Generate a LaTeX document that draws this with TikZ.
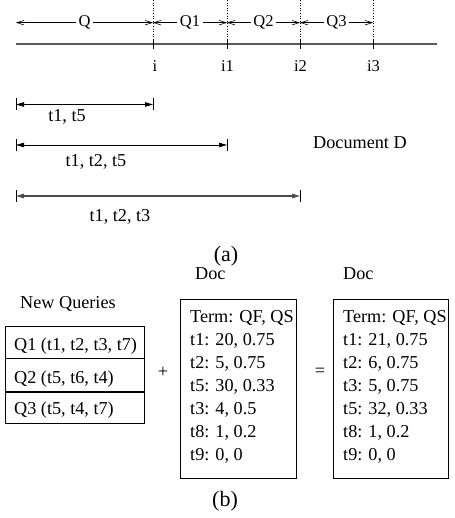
\documentclass[tikz,border=0pt]{standalone}
\usepackage{fontspec}
\setmainfont{Liberation Serif}
\usetikzlibrary{arrows.meta}

\tikzset{
  body/.style={font=\fontsize{18.2}{22}\selectfont, inner sep=0pt, anchor=base west},
  bodyc/.style={font=\fontsize{18.2}{22}\selectfont, inner sep=0pt, anchor=base},
  axislbl/.style={font=\fontsize{16.5}{20}\selectfont, inner sep=0pt, anchor=base},
  caption/.style={font=\fontsize{22}{26}\selectfont, inner sep=0pt, anchor=base},
  spanlbl/.style={font=\fontsize{16.5}{20}\selectfont, fill=white, inner xsep=2.5pt, inner ysep=1pt},
  span/.style={line width=0.6pt, {Straight Barb[length=7pt,width=4.5pt]}-{Straight Barb[length=7pt,width=4.5pt]}},
  termbar/.style={line width=0.8pt, {Triangle[length=8pt,width=4.5pt]}-{Triangle[length=8pt,width=4.5pt]}},
  endtick/.style={line width=0.8pt},
  boxline/.style={line width=0.9pt},
}

\begin{document}
\begin{tikzpicture}[x=1pt,y=-1pt]
\useasboundingbox (0,0) rectangle (454,518);

% ---------- (a): position axis with query spans ----------
\coordinate (start) at (16,22.7);
\foreach \n/\x in {i/153,ia/227,ib/300,ic/373}{
  \coordinate (top\n) at (\x,0);
  \coordinate (dot\n) at (\x,40);
  \coordinate (tick\n) at (\x,49);
  \coordinate (sp\n) at (\x,22.7);
}
\coordinate (axisL) at (16,44);
\coordinate (axisR) at (437,44);
\draw[gray!70!black, line width=1.4pt] (axisL) -- (axisR);
\foreach \n in {i,ia,ib,ic}{
  \draw[dotted, line width=0.6pt] (top\n) -- (dot\n);
  \draw[line width=0.8pt] (dot\n) -- (tick\n);
}

\draw[span] (start) -- node[spanlbl]{Q} (spi);
\draw[span] (spi) -- node[spanlbl]{Q1} (spia);
\draw[span] (spia) -- node[spanlbl]{Q2} (spib);
\draw[span] (spib) -- node[spanlbl]{Q3} (spic);

\node[axislbl] (li)  at (155,72) {i};
\node[axislbl] (lia) at (227.5,72) {i1};
\node[axislbl] (lib) at (300.5,72) {i2};
\node[axislbl] (lic) at (373.5,72) {i3};

% term-set intervals of document D
\coordinate (b1L) at (16,104.5);  \coordinate (b1R) at (153,104.5);
\coordinate (b2L) at (16,145);    \coordinate (b2R) at (227,145);
\coordinate (b3L) at (16,196);    \coordinate (b3R) at (300,196);
\foreach \b in {b1L,b1R,b2L,b2R,b3L,b3R}{
  \draw[endtick] ([yshift=-6pt]\b) -- ([yshift=6pt]\b);
}
\draw[termbar] (b1L) -- (b1R);
\draw[termbar] (b2L) -- (b2R);
\draw[termbar, gray!60!black, line width=1.2pt] (b3L) -- (b3R);

\node[bodyc] (t15)  at (67,122) {t1, t5};
\node[bodyc] (t125) at (96,167) {t1, t2, t5};
\node[bodyc] (t123) at (120,222) {t1, t2, t3};
\node[body]  (docD) at (313,149) {Document D};

\node[caption] (capa) at (226,261) {(a)};

% ---------- (b): query statistics update ----------
\node[body] (newq) at (20,308) {New Queries};
\node[draw, boxline, inner sep=0pt, minimum width=139pt, minimum height=97pt,
      anchor=north west] (qbox) at (5,326) {};
\draw[boxline] (5,358) -- (144,358);
\draw[line width=1.7pt] (5,392) -- (144,392);
\node[body] (q1) at (14,350) {Q1 (t1, t2, t3, t7)};
\node[body] (q2) at (14,383) {Q2 (t5, t6, t4)};
\node[body] (q3) at (14,414) {Q3 (t5, t4, t7)};

\node[font=\fontsize{18.2}{22}\selectfont, inner sep=0pt] (plus) at (163,372) {+};
\node[font=\fontsize{18.2}{22}\selectfont, inner sep=0pt] (eq) at (320,372) {=};

\node[body] (docA) at (195,279) {Doc};
\node[body] (docB) at (343,279) {Doc};

\node[draw, boxline, inner sep=0pt, minimum width=116pt, minimum height=179pt,
      anchor=north west] (oldbox) at (180,299) {};
\node[draw, boxline, inner sep=0pt, minimum width=115pt, minimum height=179pt,
      anchor=north west] (newbox) at (333,299) {};

\foreach \t/\k in {{Term: QF, QS}/0,{t1: 20, 0.75}/1,{t2: 5, 0.75}/2,{t5: 30, 0.33}/3,
    {t3: 4, 0.5}/4,{t8: 1, 0.2}/5,{t9: 0, 0}/6}{
  \node[body] (old\k) at (190,322+23*\k) {\t};
}
\foreach \t/\k in {{Term: QF, QS}/0,{t1: 21, 0.75}/1,{t2: 6, 0.75}/2,{t3: 5, 0.75}/3,
    {t5: 32, 0.33}/4,{t8: 1, 0.2}/5,{t9: 0, 0}/6}{
  \node[body] (new\k) at (343,322+23*\k) {\t};
}

\node[caption] (capb) at (225,506) {(b)};
\end{tikzpicture}
\end{document}
